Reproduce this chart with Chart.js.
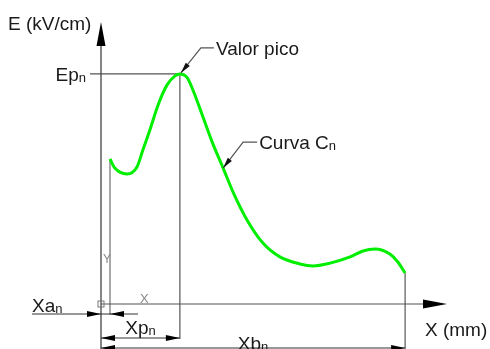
<!DOCTYPE html>
<html>
<head>
<meta charset="utf-8">
<script src="https://cdn.jsdelivr.net/npm/chart.js@4"></script>
<style>
  html, body { margin: 0; padding: 0; background: #fff; }
</style>
</head>
<body>
<canvas id="chart" width="490" height="349"></canvas>
<script>
(function () {
    // curve C_n: position along X (mm) and field E (kV/cm), schematic units
    var xValues = [2.6, 4.0, 7.5, 10.4, 12.1, 14.2, 16.5, 19.1, 21.4, 22.8, 24.9, 26.6, 29.5, 32.4, 35.3,
                   38.2, 42.2, 46.8, 51.7, 57.5, 61.3, 66.2, 72.0, 75.7, 79.2, 83.5, 85.8, 87.9];
    var eValues = [51.4, 48.2, 46.1, 48.6, 54.6, 62.0, 70.6, 77.7, 80.9, 81.6, 80.3, 75.8, 66.2, 56.6, 48.2,
                   39.6, 29.8, 21.6, 16.7, 14.2, 13.5, 14.5, 16.7, 18.8, 19.5, 17.7, 14.9, 11.0];

    var axisTitles = ['E (kV/cm)', 'X (mm)'];
    var peakText = 'Valor pico';
    var curveText = ['Curva C', 'n'];
    var epText = ['Ep', 'n'], xaText = ['Xa', 'n'], xpText = ['Xp', 'n'], xbText = ['Xb', 'n'];
    var curveNoteIndex = 14;

    var points = xValues.map(function (x, i) { return { x: x, y: eValues[i] }; });
    var peakIndex = eValues.indexOf(Math.max.apply(null, eValues));

    var FONT = '"Liberation Sans", Arial, sans-serif';
    var INK = '#1a1a1a';

    var line = (ctx, x1, y1, x2, y2, color, width) => {
        ctx.beginPath();
        ctx.strokeStyle = color;
        ctx.lineWidth = width;
        ctx.moveTo(x1, y1);
        ctx.lineTo(x2, y2);
        ctx.stroke();
    }

    // filled arrowhead with its tip at (x, y), pointing along angle
    var arrow = (ctx, x, y, angle, len, half, color) => {
        ctx.save();
        ctx.translate(x, y);
        ctx.rotate(angle);
        ctx.beginPath();
        ctx.fillStyle = color;
        ctx.moveTo(0, 0);
        ctx.lineTo(-len, -half);
        ctx.lineTo(-len, half);
        ctx.closePath();
        ctx.fill();
        ctx.restore();
    }

    // main text followed by a small subscript
    var subText = (ctx, parts, x, y, align) => {
        ctx.font = '19px ' + FONT;
        var w1 = ctx.measureText(parts[0]).width;
        ctx.font = '13px ' + FONT;
        var w2 = ctx.measureText(parts[1]).width;
        var left = align === 'right' ? x - w1 - w2 : (align === 'center' ? x - (w1 + w2) / 2 : x);
        ctx.fillStyle = INK;
        ctx.textAlign = 'left';
        ctx.textBaseline = 'alphabetic';
        ctx.font = '19px ' + FONT;
        ctx.fillText(parts[0], left, y);
        ctx.font = '13px ' + FONT;
        ctx.fillText(parts[1], left + w1, y + 1);
    }

    var plainText = (ctx, text, x, y, size, color) => {
        ctx.font = size + 'px ' + FONT;
        ctx.fillStyle = color;
        ctx.textAlign = 'left';
        ctx.textBaseline = 'alphabetic';
        ctx.fillText(text, x, y);
    }

    var leader = (ctx, tx, ty, ex, ey, hx) => {
        ctx.beginPath();
        ctx.strokeStyle = '#555';
        ctx.lineWidth = 1.2;
        ctx.moveTo(hx, ey);
        ctx.lineTo(ex, ey);
        ctx.lineTo(tx, ty);
        ctx.stroke();
        arrow(ctx, tx, ty, Math.atan2(ty - ey, tx - ex), 11, 2.6, '#111');
    }

    var drawing = {
        id: 'drawing',
        beforeDatasetsDraw: function (chart) {
            var ctx = chart.ctx, a = chart.chartArea;
            var xs = chart.scales.x, ys = chart.scales.y;
            var ox = xs.getPixelForValue(0), oy = ys.getPixelForValue(0);
            var px = xs.getPixelForValue(xValues[peakIndex]), py = ys.getPixelForValue(eValues[peakIndex]);
            var ax = xs.getPixelForValue(xValues[0]), ay = ys.getPixelForValue(eValues[0]);
            var last = xValues.length - 1;
            var bx = xs.getPixelForValue(xValues[last]), by = ys.getPixelForValue(eValues[last]);
            var gray = '#7a7a7a';
            ctx.save();

            // extension lines
            line(ctx, ax, ay, ax, oy + 11, gray, 1.3);
            line(ctx, px, py, px, oy + 35, '#555', 1.2);
            line(ctx, bx, by, bx, a.bottom + 45, gray, 1.5);
            line(ctx, ox - 11, py, px, py, '#555', 1.2);

            // axes
            line(ctx, ox, a.top + 20, ox, chart.height, '#444', 1.3);
            arrow(ctx, ox, a.top, -Math.PI / 2, 24, 4.5, '#000');
            line(ctx, ox, oy, a.right - 20, oy, '#555', 1.2);
            arrow(ctx, a.right, oy, 0, 24, 4.5, '#000');

            // UCS icon
            ctx.strokeStyle = '#777';
            ctx.lineWidth = 1;
            ctx.strokeRect(ox - 3, oy - 3, 6, 6);
            plainText(ctx, 'Y', ox + 2, oy - 41, 12, '#888');
            plainText(ctx, 'X', ox + 39, oy - 1, 13, '#888');

            // Xa dimension
            var ya = oy + 10;
            line(ctx, 32, ya, ax + 28, ya, '#333', 1.1);
            arrow(ctx, ox, ya, 0, 14, 3, '#000');
            arrow(ctx, ax, ya, Math.PI, 14, 3, '#000');

            // Xp and Xb dimensions
            var yp = oy + 34, yb = a.bottom + 44;
            line(ctx, ox, yp, px, yp, '#333', 1.1);
            arrow(ctx, ox, yp, Math.PI, 14, 3, '#000');
            arrow(ctx, px, yp, 0, 14, 3, '#000');
            line(ctx, ox, yb, bx, yb, '#333', 1.1);
            arrow(ctx, ox, yb, Math.PI, 14, 3, '#000');
            arrow(ctx, bx, yb, 0, 14, 3, '#000');

            ctx.restore();
        },
        afterDatasetsDraw: function (chart) {
            var ctx = chart.ctx, a = chart.chartArea;
            var xs = chart.scales.x, ys = chart.scales.y;
            var ox = xs.getPixelForValue(0), oy = ys.getPixelForValue(0);
            var px = xs.getPixelForValue(xValues[peakIndex]), py = ys.getPixelForValue(eValues[peakIndex]);
            var cx = xs.getPixelForValue(xValues[curveNoteIndex]), cy = ys.getPixelForValue(eValues[curveNoteIndex]);
            var last = xValues.length - 1;
            var bx = xs.getPixelForValue(xValues[last]);
            ctx.save();

            plainText(ctx, axisTitles[0], 8, 30, 19, INK);
            plainText(ctx, axisTitles[1], a.right - 22, 336, 19, INK);

            leader(ctx, px + 1, py - 1, px + 21, py - 26, px + 34);
            plainText(ctx, peakText, px + 36, py - 19, 19, INK);
            leader(ctx, cx, cy, cx + 20, cy - 26, cx + 34);
            subText(ctx, curveText, cx + 36, cy - 19);

            subText(ctx, epText, ox - 15, py + 7, 'right');
            subText(ctx, xaText, 32, oy + 8);
            subText(ctx, xpText, (ox + px) / 2, oy + 30, 'center');
            subText(ctx, xbText, (ox + bx) / 2, oy + 46, 'center');

            ctx.restore();
        }
    };

    var ctx = document.getElementById('chart').getContext('2d');
    new Chart(ctx, {
        type: 'line',
        data: {
            datasets: [{
                data: points,
                borderColor: '#00ee00',
                borderWidth: 3,
                pointRadius: 0,
                fill: false,
                cubicInterpolationMode: 'monotone',
                clip: false
            }]
        },
        options: {
            responsive: false,
            animation: false,
            layout: { padding: { left: 101, right: 43, top: 22, bottom: 45 } },
            scales: {
                x: { type: 'linear', min: 0, max: 100, display: false },
                y: { type: 'linear', min: 0, max: 100, display: false }
            },
            plugins: {
                legend: { display: false },
                tooltip: { enabled: false }
            }
        },
        plugins: [drawing]
    });
})();
</script>
</body>
</html>
